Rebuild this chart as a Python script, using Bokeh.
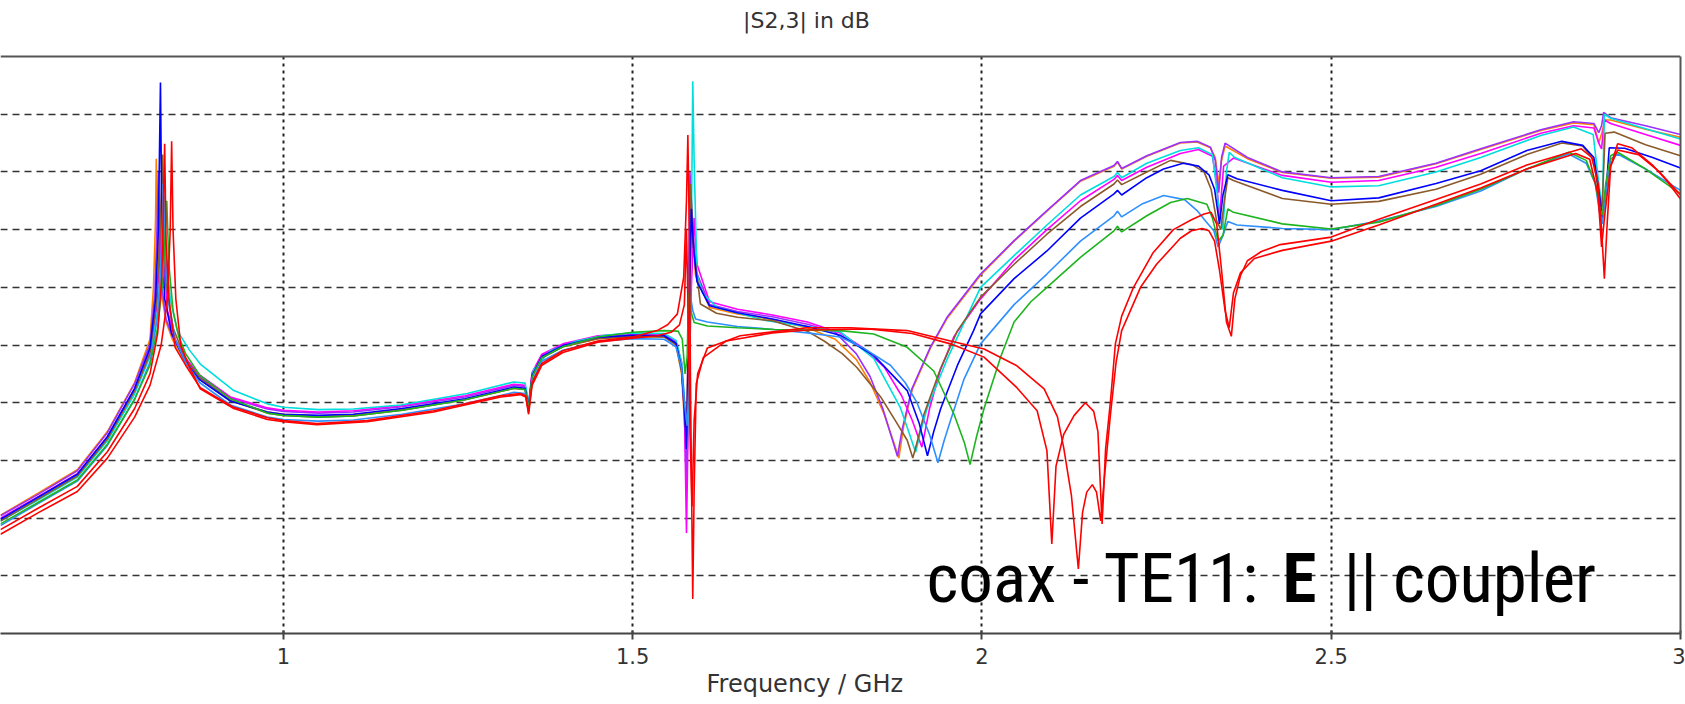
from bokeh.plotting import figure
from bokeh.models import FixedTicker, NumeralTickFormatter, Span, Label, Range1d, Title, LinearAxis
from bokeh.embed import file_html
from bokeh.resources import INLINE

# ---------------- data ----------------
freq_ticks = [1, 1.5, 2, 2.5, 3]
freq_grid = [1, 1.5, 2, 2.5]
db_grid = [-90, -80, -70, -60, -50, -40, -30, -20, -10]

orange = [(0.595,-79.5),(0.65,-75.6),(0.705,-71.6),(0.748,-65.0),(0.787,-56.5),(0.809,-49.0),(0.814,-40),(0.817,-28),(0.818,-17.7),(0.820,-30),(0.824,-40),(0.832,-46),(0.841,-49),(0.86,-53),(0.88,-56),(0.924,-59.6),(0.977,-61.6),(1.0,-62.0),(1.05,-62.3),(1.10,-62.1),(1.17,-61.2),(1.26,-59.4),(1.33,-57.5),(1.346,-57.7),(1.351,-60.8),(1.356,-55.5),(1.37,-52.2),(1.40,-50.3),(1.45,-48.9),(1.50,-48.5),(1.545,-48.6),(1.562,-50),(1.570,-55),(1.574,-63),(1.577,-70),(1.580,-45),(1.583,-24),(1.586,-30),(1.59,-38),(1.61,-43.5),(1.65,-44.6),(1.70,-45.6),(1.75,-47),(1.79,-49),(1.82,-52.5),(1.84,-56.5),(1.86,-62),(1.874,-67),(1.881,-69.6),(1.888,-64),(1.90,-57.8),(1.926,-50.6),(1.95,-45.4),(1.998,-37.9),(2.046,-32.0),(2.093,-26.8),(2.141,-21.6),(2.189,-19.0),(2.194,-18.3),(2.20,-19.5),(2.236,-17.3),(2.284,-15.0),(2.308,-14.8),(2.327,-15.8),(2.334,-17.5),(2.339,-22),(2.343,-18),(2.348,-15.5),(2.38,-17.7),(2.43,-20.1),(2.50,-21.1),(2.568,-20.9),(2.65,-18.6),(2.714,-16.1),(2.80,-12.8),(2.847,-11.5),(2.876,-11.8),(2.883,-15),(2.888,-13),(2.892,-11),(2.90,-11),(2.95,-12.6),(3.0,-14.0)]

purple = [(0.595,-79.6),(0.65,-75.8),(0.705,-71.8),(0.748,-65.2),(0.787,-56.7),(0.809,-49.8),(0.816,-41),(0.819,-30),(0.821,-20),(0.823,-31),(0.826,-40),(0.832,-45.5),(0.841,-48.5),(0.86,-52.5),(0.88,-55.5),(0.924,-59.2),(0.977,-61.1),(1.0,-61.5),(1.05,-61.8),(1.10,-61.6),(1.17,-60.7),(1.26,-59.0),(1.33,-57.0),(1.346,-57.2),(1.351,-60.5),(1.356,-55.0),(1.37,-51.8),(1.40,-50.0),(1.45,-48.6),(1.50,-48.2),(1.545,-48.3),(1.562,-49.6),(1.570,-54),(1.574,-62),(1.577,-75),(1.579,-50),(1.582,-20),(1.585,-27),(1.59,-37),(1.61,-43),(1.65,-44.2),(1.70,-45.1),(1.75,-46.4),(1.79,-47.8),(1.82,-51.5),(1.84,-55.5),(1.858,-61),(1.872,-66.5),(1.879,-69.3),(1.886,-64.5),(1.90,-57.5),(1.926,-50.4),(1.95,-45.2),(1.998,-37.7),(2.046,-31.9),(2.093,-26.7),(2.141,-21.5),(2.189,-18.9),(2.194,-18.2),(2.20,-19.4),(2.236,-17.2),(2.284,-14.9),(2.308,-14.7),(2.327,-15.7),(2.334,-18),(2.339,-23.6),(2.343,-17.5),(2.348,-15),(2.38,-17.5),(2.43,-20.0),(2.50,-21.0),(2.568,-20.8),(2.65,-18.5),(2.714,-16.0),(2.80,-12.7),(2.847,-11.3),(2.876,-11.6),(2.883,-13.2),(2.887,-12),(2.890,-9.7),(2.90,-10.6),(2.95,-12.0),(3.0,-13.5)]

magenta = [(0.595,-80.0),(0.65,-76.2),(0.705,-72.3),(0.748,-65.9),(0.787,-57.6),(0.809,-51),(0.818,-44),(0.823,-35),(0.826,-24),(0.829,-35),(0.834,-44),(0.845,-49),(0.86,-52.3),(0.88,-55.2),(0.924,-59.0),(0.977,-60.9),(1.0,-61.3),(1.05,-61.6),(1.10,-61.4),(1.17,-60.5),(1.26,-58.8),(1.33,-56.8),(1.346,-57.0),(1.351,-60.2),(1.356,-54.8),(1.37,-51.6),(1.40,-49.8),(1.45,-48.4),(1.50,-48.0),(1.545,-48.1),(1.562,-49.4),(1.570,-53),(1.574,-60),(1.577,-82.6),(1.580,-60),(1.584,-40),(1.588,-28),(1.592,-36),(1.61,-42.5),(1.65,-43.8),(1.70,-44.8),(1.75,-46),(1.797,-47.9),(1.83,-50.5),(1.86,-53.8),(1.885,-58.8),(1.90,-63),(1.914,-67.7),(1.925,-61),(1.94,-54.5),(1.96,-48.5),(1.998,-42.0),(2.046,-35.3),(2.093,-30.0),(2.141,-25.0),(2.189,-21.3),(2.194,-20.6),(2.20,-21.5),(2.236,-19.2),(2.284,-16.8),(2.31,-16.1),(2.33,-17.3),(2.336,-22),(2.340,-28),(2.346,-19),(2.36,-17.6),(2.43,-20.6),(2.50,-21.8),(2.568,-21.5),(2.65,-19.2),(2.714,-16.8),(2.80,-13.3),(2.847,-12.0),(2.876,-12.4),(2.883,-15),(2.887,-16),(2.891,-11),(2.90,-11.6),(2.95,-13.5),(3.0,-15.4)]

cyan = [(0.595,-80.5),(0.65,-76.8),(0.705,-72.9),(0.748,-66.6),(0.787,-58.5),(0.809,-52.0),(0.820,-44.0),(0.826,-34.0),(0.829,-24.0),(0.832,-34.0),(0.838,-42.0),(0.848,-47.5),(0.865,-50.8),(0.881,-53.3),(0.929,-57.9),(0.977,-60.2),(1.0,-60.8),(1.05,-61.2),(1.10,-61.1),(1.168,-60.4),(1.263,-58.4),(1.33,-56.4),(1.346,-56.6),(1.351,-60.0),(1.358,-54.3),(1.382,-51.0),(1.42,-49.3),(1.46,-48.3),(1.50,-47.9),(1.545,-48.0),(1.562,-49.2),(1.570,-53.0),(1.574,-59.0),(1.578,-68.0),(1.582,-50.0),(1.585,-18.0),(1.586,-4.3),(1.588,-18.3),(1.592,-37.7),(1.60,-41.0),(1.621,-43.5),(1.692,-45.8),(1.75,-46.8),(1.797,-47.7),(1.845,-52.3),(1.883,-60.8),(1.895,-65.0),(1.905,-68.6),(1.912,-65.0),(1.922,-60.8),(1.95,-52.5),(1.975,-46.0),(1.998,-40.0),(2.046,-34.5),(2.093,-29.2),(2.141,-24.0),(2.189,-20.8),(2.194,-20.1),(2.20,-21.0),(2.236,-18.5),(2.284,-16.3),(2.31,-15.8),(2.33,-17.0),(2.338,-25.0),(2.345,-30.0),(2.350,-20.0),(2.354,-16.6),(2.362,-17.5),(2.43,-21.0),(2.50,-22.6),(2.568,-22.4),(2.65,-20.0),(2.714,-17.5),(2.80,-13.7),(2.847,-12.2),(2.875,-13.5),(2.883,-22.0),(2.888,-26.3),(2.891,-10.0),(2.90,-10.7),(2.95,-12.5),(3.0,-14.3)]

brown = [(0.595,-80.5),(0.65,-76.6),(0.705,-72.7),(0.748,-66.3),(0.787,-58.0),(0.809,-51.5),(0.818,-43.0),(0.823,-32.0),(0.827,-17.0),(0.829,-30.0),(0.833,-40.0),(0.842,-47.0),(0.86,-52.5),(0.88,-55.7),(0.924,-59.6),(0.977,-61.8),(1.0,-62.2),(1.05,-62.5),(1.10,-62.3),(1.17,-61.3),(1.26,-59.5),(1.33,-57.5),(1.346,-57.7),(1.351,-61.0),(1.356,-55.5),(1.37,-52.2),(1.40,-50.3),(1.45,-48.9),(1.50,-48.5),(1.545,-48.6),(1.562,-49.9),(1.570,-54.5),(1.574,-61.0),(1.577,-66.0),(1.580,-48.0),(1.583,-22.1),(1.586,-32.0),(1.597,-42.9),(1.62,-44.5),(1.65,-45.2),(1.70,-45.8),(1.75,-47.6),(1.774,-49.3),(1.80,-51.5),(1.821,-53.9),(1.855,-59.0),(1.878,-63.5),(1.893,-66.5),(1.901,-69.6),(1.909,-66.0),(1.917,-62.0),(1.941,-54.0),(1.965,-47.5),(1.998,-41.7),(2.046,-36.0),(2.093,-30.8),(2.141,-26.0),(2.189,-22.1),(2.194,-21.4),(2.20,-22.2),(2.236,-20.0),(2.27,-18.0),(2.30,-18.7),(2.318,-20.0),(2.328,-23.0),(2.336,-28.5),(2.342,-30.0),(2.347,-25.0),(2.352,-21.0),(2.36,-21.5),(2.43,-24.6),(2.50,-25.6),(2.568,-25.1),(2.65,-23.0),(2.714,-20.4),(2.78,-17.0),(2.83,-15.0),(2.86,-15.5),(2.876,-18.0),(2.883,-24.0),(2.888,-26.0),(2.892,-13.3),(2.905,-13.1),(2.95,-15.3),(3.0,-17.2)]

blue = [(0.595,-80.2),(0.65,-76.3),(0.705,-72.4),(0.748,-65.9),(0.787,-57.5),(0.809,-50.5),(0.817,-42),(0.821,-30),(0.824,-4.5),(0.826,-30),(0.83,-42),(0.84,-48),(0.86,-53),(0.88,-56),(0.924,-59.7),(0.977,-61.6),(1.0,-62.0),(1.05,-62.2),(1.10,-62.0),(1.17,-61.0),(1.26,-59.3),(1.33,-57.3),(1.346,-57.5),(1.351,-60.8),(1.356,-55.3),(1.37,-52.0),(1.40,-50.1),(1.45,-48.7),(1.50,-48.3),(1.545,-48.4),(1.562,-49.7),(1.570,-54),(1.574,-61),(1.577,-68),(1.580,-50),(1.584,-26.4),(1.587,-33),(1.592,-39),(1.61,-43.2),(1.65,-44.4),(1.70,-45.5),(1.75,-46.8),(1.797,-48.3),(1.845,-51.8),(1.893,-57.9),(1.91,-63.5),(1.922,-69.2),(1.931,-65),(1.941,-61),(1.965,-53.5),(1.988,-47.5),(1.998,-44.6),(2.046,-38.5),(2.093,-33.7),(2.141,-28.0),(2.189,-23.8),(2.194,-23.2),(2.20,-24),(2.236,-21),(2.26,-19.5),(2.288,-18.5),(2.31,-19.0),(2.325,-20.5),(2.333,-23),(2.34,-29),(2.345,-24),(2.352,-20.5),(2.365,-21.2),(2.43,-23.2),(2.50,-25.0),(2.568,-24.5),(2.65,-22.0),(2.714,-19.8),(2.78,-16.3),(2.83,-14.7),(2.86,-15.4),(2.876,-17.5),(2.884,-24),(2.888,-28),(2.893,-24),(2.898,-15.8),(2.92,-15.9),(2.96,-17.5),(3.0,-19.3)]

dodgerblue = [(0.595,-81.3),(0.65,-77.4),(0.705,-73.6),(0.748,-67.4),(0.787,-59.4),(0.809,-53),(0.82,-45),(0.825,-35),(0.828,-22),(0.831,-34),(0.836,-43),(0.845,-49),(0.86,-53),(0.88,-56.5),(0.924,-60.4),(0.977,-62.5),(1.0,-62.9),(1.05,-63.2),(1.10,-63.0),(1.17,-62.0),(1.26,-60.2),(1.33,-58.2),(1.346,-58.4),(1.351,-61.4),(1.356,-56.2),(1.37,-52.8),(1.40,-50.9),(1.45,-49.4),(1.50,-48.9),(1.545,-49.0),(1.562,-50.3),(1.570,-54),(1.574,-60),(1.578,-64),(1.581,-55),(1.583,-41.8),(1.586,-44),(1.59,-45.5),(1.607,-46.0),(1.65,-46.8),(1.702,-47.3),(1.75,-47.9),(1.797,-48.6),(1.83,-50.5),(1.869,-53.5),(1.89,-56.5),(1.907,-60),(1.925,-65.5),(1.937,-70.4),(1.946,-66.5),(1.955,-63.1),(1.974,-56),(1.998,-49.8),(2.046,-43),(2.093,-37.7),(2.141,-32.0),(2.189,-27.6),(2.194,-26.8),(2.20,-27.8),(2.23,-25.5),(2.26,-24.1),(2.29,-24.8),(2.308,-26.7),(2.320,-28.5),(2.332,-30.2),(2.338,-33),(2.345,-31),(2.352,-28.6),(2.365,-29.2),(2.43,-29.8),(2.50,-30.0),(2.568,-28.5),(2.65,-26),(2.714,-23.3),(2.78,-19.5),(2.84,-16.9),(2.865,-18.5),(2.878,-22),(2.884,-27),(2.888,-29),(2.893,-24),(2.90,-17.8),(2.91,-16.9),(2.95,-19.5),(3.0,-23.2)]

green = [(0.595,-81.0),(0.65,-77.2),(0.705,-73.4),(0.748,-67.2),(0.787,-59.4),(0.809,-53.5),(0.820,-47.0),(0.828,-38.0),(0.833,-25.0),(0.836,-36.0),(0.842,-44.0),(0.85,-48.5),(0.86,-51.5),(0.88,-55.2),(0.924,-59.3),(0.977,-61.8),(1.0,-62.2),(1.05,-62.5),(1.10,-62.3),(1.17,-61.3),(1.26,-59.5),(1.33,-57.5),(1.346,-57.7),(1.351,-61.0),(1.356,-55.5),(1.37,-52.2),(1.40,-50.3),(1.45,-48.6),(1.50,-47.8),(1.545,-47.5),(1.565,-47.6),(1.571,-49.0),(1.575,-55.0),(1.578,-52.0),(1.580,-40.9),(1.583,-44.0),(1.588,-46.1),(1.607,-46.7),(1.65,-47.0),(1.702,-47.3),(1.797,-47.5),(1.845,-48.1),(1.893,-50.4),(1.931,-54.5),(1.96,-62.0),(1.975,-67.0),(1.983,-70.7),(1.992,-66.0),(2.003,-61.0),(2.027,-52.0),(2.046,-46.0),(2.07,-42.5),(2.093,-40.0),(2.141,-34.8),(2.189,-30.2),(2.194,-29.4),(2.20,-30.4),(2.236,-27.6),(2.27,-25.3),(2.294,-24.6),(2.322,-25.6),(2.330,-28.0),(2.338,-32.0),(2.345,-31.0),(2.352,-26.4),(2.36,-27.0),(2.43,-29.0),(2.50,-29.9),(2.568,-28.7),(2.65,-25.8),(2.714,-23.0),(2.78,-19.5),(2.84,-16.6),(2.865,-18.0),(2.878,-22.0),(2.884,-26.0),(2.888,-27.5),(2.893,-22.0),(2.90,-17.2),(2.91,-16.6),(2.95,-19.5),(3.0,-23.8)]

red_b = [(0.595,-82.8),(0.65,-79.0),(0.705,-75.4),(0.748,-69.6),(0.787,-62.5),(0.809,-57.0),(0.825,-50.0),(0.834,-42.0),(0.838,-30.0),(0.840,-14.7),(0.842,-30.0),(0.846,-42.0),(0.853,-50.0),(0.866,-54.0),(0.881,-57.6),(0.929,-61.0),(0.977,-62.9),(1.0,-63.3),(1.048,-63.8),(1.12,-63.3),(1.215,-61.6),(1.311,-59.0),(1.339,-58.6),(1.347,-59.0),(1.351,-62.0),(1.356,-57.0),(1.37,-53.5),(1.40,-51.3),(1.45,-49.5),(1.50,-48.8),(1.535,-48.4),(1.555,-47.8),(1.567,-46.5),(1.574,-43.0),(1.577,-30.0),(1.579,-42.0),(1.582,-65.0),(1.585,-78.0),(1.588,-63.0),(1.593,-55.0),(1.607,-50.5),(1.654,-48.4),(1.75,-47.0),(1.812,-47.0),(1.893,-47.5),(1.955,-49.3),(2.003,-50.7),(2.05,-53.6),(2.089,-57.6),(2.108,-62.4),(2.117,-67.8),(2.128,-76.0),(2.138,-88.8),(2.144,-79.0),(2.150,-75.5),(2.158,-74.2),(2.164,-75.5),(2.170,-80.5),(2.176,-72.0),(2.184,-62.0),(2.192,-53.0),(2.200,-47.5),(2.227,-40.0),(2.25,-36.0),(2.284,-31.5),(2.30,-30.2),(2.315,-29.8),(2.325,-30.2),(2.333,-32.0),(2.340,-37.0),(2.348,-44.0),(2.354,-47.0),(2.36,-41.0),(2.37,-37.5),(2.39,-35.0),(2.43,-33.6),(2.50,-32.0),(2.568,-29.2),(2.65,-25.6),(2.714,-22.8),(2.78,-19.5),(2.85,-16.8),(2.87,-17.8),(2.882,-24.0),(2.887,-33.0),(2.892,-27.0),(2.90,-19.0),(2.91,-16.2),(2.94,-17.0),(2.97,-20.0),(3.0,-24.0)]

red_a = [(0.595,-82.0),(0.65,-78.2),(0.705,-74.5),(0.748,-68.5),(0.787,-61.0),(0.809,-55.0),(0.820,-48.0),(0.826,-38.0),(0.830,-15.1),(0.832,-32.0),(0.836,-42.0),(0.845,-50.4),(0.86,-53.5),(0.881,-57.4),(0.929,-60.8),(0.977,-62.6),(1.0,-63.1),(1.048,-63.6),(1.12,-63.1),(1.215,-61.4),(1.311,-58.8),(1.339,-58.4),(1.347,-58.8),(1.351,-61.7),(1.356,-56.5),(1.37,-53.2),(1.40,-51.0),(1.45,-49.3),(1.50,-48.6),(1.535,-47.5),(1.55,-46.5),(1.564,-44.6),(1.573,-38.3),(1.577,-25.0),(1.579,-13.6),(1.581,-30.0),(1.583,-60.0),(1.586,-94.0),(1.588,-75.0),(1.591,-56.7),(1.601,-52.2),(1.634,-49.3),(1.70,-47.9),(1.75,-47.4),(1.838,-47.2),(1.90,-48.0),(1.955,-49.8),(2.003,-52.1),(2.05,-57.4),(2.079,-61.4),(2.093,-68.3),(2.100,-84.5),(2.106,-71.0),(2.117,-65.5),(2.132,-62.2),(2.148,-60.0),(2.160,-61.5),(2.166,-65.0),(2.172,-81.0),(2.177,-68.0),(2.184,-59.7),(2.191,-49.8),(2.200,-45.0),(2.217,-40.0),(2.245,-34.0),(2.274,-30.0),(2.30,-28.3),(2.318,-27.3),(2.328,-27.0),(2.336,-29.0),(2.343,-37.0),(2.350,-46.0),(2.357,-48.5),(2.362,-42.0),(2.37,-38.0),(2.38,-35.4),(2.40,-33.8),(2.427,-32.6),(2.50,-31.3),(2.568,-28.2),(2.65,-24.8),(2.714,-22.1),(2.78,-18.8),(2.858,-16.0),(2.873,-17.5),(2.882,-22.0),(2.887,-30.0),(2.891,-38.5),(2.895,-29.0),(2.90,-19.0),(2.91,-15.1),(2.93,-15.8),(2.96,-18.8),(2.98,-21.5),(3.0,-24.7)]

series = [
    ("#FF8000", orange),
    ("#9B30FF", purple),
    ("#FF00FF", magenta),
    ("#00DDDD", cyan),
    ("#8B5A2B", brown),
    ("#0000FF", blue),
    ("#2E8FFF", dodgerblue),
    ("#1EB41E", green),
    ("#FF0000", red_b),
    ("#FF0000", red_a),
]

# ---------------- figure ----------------
# frame runs from the canvas top; the plot box itself ends at 0 dB (drawn border)
p = figure(width=1685, height=704,
           x_range=Range1d(0.595, 3.0), y_range=Range1d(-100, 9.71),
           output_backend="svg", toolbar_location=None,
           y_axis_location=None, title_location=None,
           min_border_left=0, min_border_right=5,
           min_border_top=0, min_border_bottom=71)
p.outline_line_color = None
p.background_fill_color = "white"
p.border_fill_color = "white"

for color, pts in series:
    p.line([f for f, _ in pts], [d for _, d in pts], line_color=color, line_width=1.6)

ax = p.xaxis[0]
ax.ticker = FixedTicker(ticks=freq_ticks)
ax.formatter = NumeralTickFormatter(format="0.[0]")
ax.axis_line_color = "#444444"
ax.axis_line_width = 2
ax.major_tick_line_color = "#444444"
ax.major_tick_line_width = 2
ax.major_tick_in = 3
ax.major_tick_out = 6
ax.minor_tick_line_color = None
ax.major_label_text_font = "DejaVu Sans"
ax.major_label_text_font_size = "21px"
ax.major_label_text_color = "#333333"
ax.major_label_standoff = 8

# right border of the plot box (0 .. -100 dB)
rax = LinearAxis(ticker=FixedTicker(ticks=[]), bounds=(-100, 0),
                 axis_line_color="#555555", axis_line_width=2,
                 major_tick_in=0, major_tick_out=0, minor_tick_in=0, minor_tick_out=0,
                 major_label_standoff=0, minor_tick_line_color=None,
                 major_tick_line_color=None)
p.add_layout(rax, "right")

p.add_layout(Title(text="Frequency / GHz", align="left", offset=706,
                   text_font="DejaVu Sans", text_font_size="24px",
                   text_font_style="normal", text_color="#333333",
                   vertical_align="top", standoff=6), "below")

p.xgrid.ticker = FixedTicker(ticks=freq_grid)
p.xgrid.cross_bounds = (-100, 0)
p.xgrid.grid_line_color = "#222222"
p.xgrid.grid_line_dash = "3 4"
p.xgrid.grid_line_width = 2
p.ygrid.ticker = FixedTicker(ticks=db_grid)
p.ygrid.grid_line_color = "#333333"
p.ygrid.grid_line_dash = "7 5"
p.ygrid.grid_line_width = 1.5

p.add_layout(Span(location=0, dimension="width", line_color="#555555", line_width=2))

p.add_layout(Label(x=1.7488, y=6.2, text="|S2,3| in dB", text_align="center",
                   text_baseline="middle", text_font="DejaVu Sans",
                   text_font_size="22px", text_color="#333333"))

ann_font = "Roboto Condensed, Liberation Sans Narrow, DejaVu Sans Condensed, sans-serif"
ann_y = -90.4
p.add_layout(Label(x=1.9206, y=ann_y, text="coax - TE11:", text_align="left",
                   text_baseline="alphabetic", text_font=ann_font,
                   text_font_size="69px", text_color="black"))
p.add_layout(Label(x=2.4302, y=ann_y, text="E", text_align="left",
                   text_baseline="alphabetic", text_font=ann_font, text_font_style="bold",
                   text_font_size="69px", text_color="black"))
p.add_layout(Label(x=2.5175, y=ann_y, text="|| coupler", text_align="left",
                   text_baseline="alphabetic", text_font=ann_font,
                   text_font_size="69px", text_color="black"))

open("out.html", "w").write(file_html(p, INLINE))
